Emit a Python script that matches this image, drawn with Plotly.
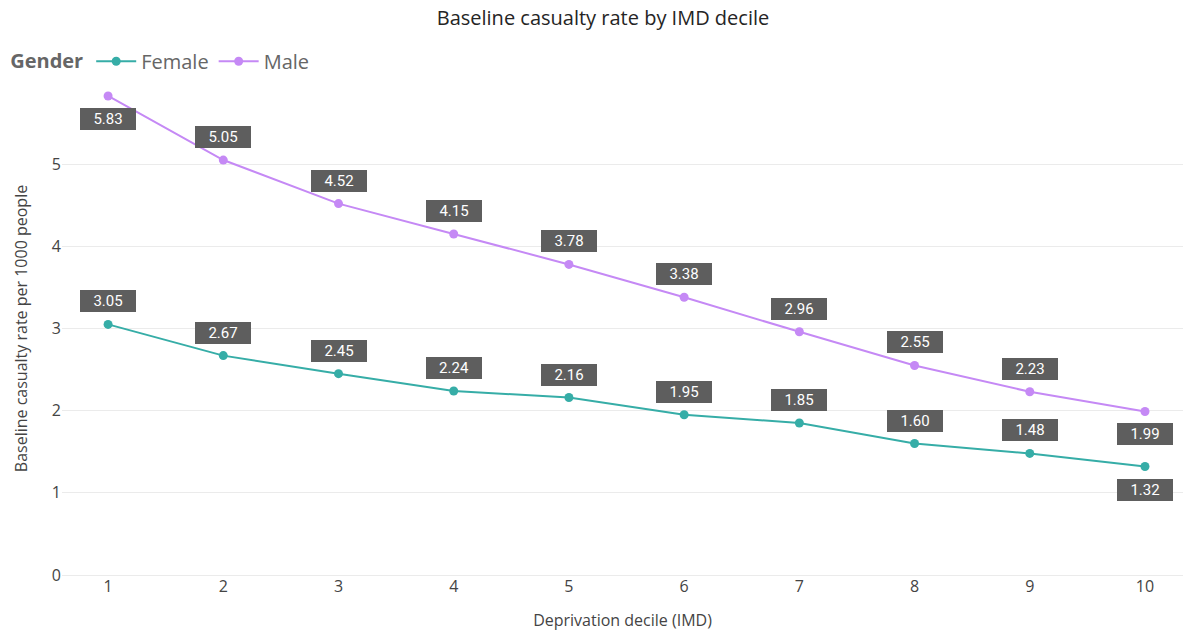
import plotly.graph_objects as go

deciles = [1, 2, 3, 4, 5, 6, 7, 8, 9, 10]
female = [3.05, 2.67, 2.45, 2.24, 2.16, 1.95, 1.85, 1.60, 1.48, 1.32]
male = [5.83, 5.05, 4.52, 4.15, 3.78, 3.38, 2.96, 2.55, 2.23, 1.99]
y_ticks = [0, 1, 2, 3, 4, 5]

female_color = "#36ADA7"
male_color = "#C589F5"

# label placement: +1 above, -1 below
female_pos = [1, 1, 1, 1, 1, 1, 1, 1, 1, -1]
male_pos = [-1, 1, 1, 1, 1, 1, 1, 1, 1, -1]

fig = go.Figure()
fig.add_trace(go.Scatter(x=deciles, y=female, name="Female", mode="lines+markers",
                         line=dict(color=female_color, width=2),
                         marker=dict(size=9, color=female_color)))
fig.add_trace(go.Scatter(x=deciles, y=male, name="Male", mode="lines+markers",
                         line=dict(color=male_color, width=2),
                         marker=dict(size=9, color=male_color)))

annotations = []
for vals, pos in ((female, female_pos), (male, male_pos)):
    for x, v, p in zip(deciles, vals, pos):
        annotations.append(dict(
            x=x, y=v, xref="x", yref="y", text=f"{v:.2f}", showarrow=False,
            yshift=23 * p, bgcolor="#5E5E5E", bordercolor="#5E5E5E", borderpad=2,
            font=dict(family="Roboto", size=15, color="white"),
            width=50, height=16,
        ))

fig.update_layout(
    width=1187, height=635,
    paper_bgcolor="white", plot_bgcolor="white",
    margin=dict(l=62, r=4, t=82, b=60),
    font=dict(family="Open Sans", color="#444"),
    title=dict(text="Baseline casualty rate by IMD decile", x=0.508, xanchor="center",
               y=0.972, yanchor="middle", font=dict(size=20, color="#252525")),
    legend=dict(orientation="h", x=-0.048, xref="paper", y=1.042, yanchor="middle",
                xanchor="left",
                title=dict(text="<b>Gender</b>", font=dict(size=20, color="#666")),
                font=dict(size=20, color="#666"), itemwidth=40),
    annotations=annotations,
    showlegend=True,
)
fig.update_xaxes(range=[0.6, 10.33], tickvals=deciles, ticktext=[str(d) for d in deciles],
                 showgrid=False, zeroline=False, showline=False,
                 tickfont=dict(size=16, color="#444"),
                 title=dict(text="Deprivation decile (IMD)", font=dict(size=16, color="#444"), standoff=18))
fig.update_yaxes(range=[0, 6], tickvals=y_ticks, showgrid=True, gridcolor="#EBEBEB", gridwidth=1,
                 zeroline=True, zerolinecolor="#EBEBEB", zerolinewidth=1,
                 tickfont=dict(size=16, color="#444"),
                 title=dict(text="Baseline casualty rate per 1000 people", font=dict(size=16, color="#444"), standoff=20))

fig.write_html("out.html")
